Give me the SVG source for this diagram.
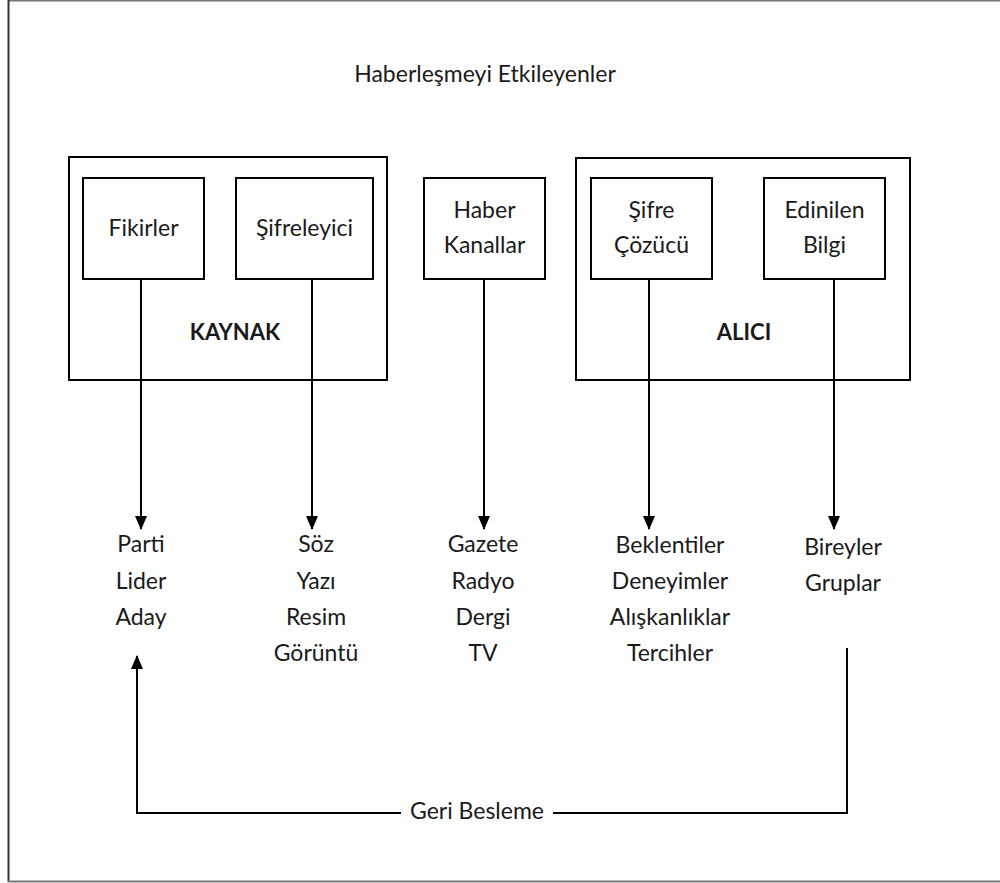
<svg xmlns="http://www.w3.org/2000/svg" width="1000" height="883" viewBox="0 0 1000 883">
<style>
.box{fill:none;stroke:#000;stroke-width:2}
.ln{fill:none;stroke:#000;stroke-width:2}
.t{font-family:Lato,"Open Sans",sans-serif;font-size:23px;fill:#1a1a1a;text-anchor:middle}
.b{font-weight:bold;font-size:22px}
</style>
<defs>
<marker id="ah" markerWidth="14" markerHeight="12" refX="13" refY="6" orient="auto" markerUnits="userSpaceOnUse" viewBox="0 0 14 12">
<path d="M0,0 L14,6 L0,12 Z" fill="#000"/>
</marker>
</defs>
<rect width="1000" height="883" fill="#fff"/>
<g id="frame">
<line x1="8" y1="0.5" x2="1000" y2="0.5" stroke="#777" stroke-width="2"/>
<line x1="8.5" y1="0" x2="8.5" y2="882" stroke="#333" stroke-width="2"/>
<line x1="8" y1="881.5" x2="1000" y2="881.5" stroke="#777" stroke-width="2"/>
</g>
<text id="title" class="t" x="485" y="82">Haberleşmeyi Etkileyenler</text>
<g id="kaynak">
<rect class="box" x="69" y="157" width="318" height="223"/>
<text class="t b" x="235" y="340">KAYNAK</text>
</g>
<g id="fikirler">
<rect class="box" x="83" y="178" width="121" height="101"/>
<text class="t" x="143.5" y="236">Fikirler</text>
</g>
<g id="sifreleyici">
<rect class="box" x="236" y="178" width="137" height="101"/>
<text class="t" x="304.5" y="236">Şifreleyici</text>
</g>
<g id="haber">
<rect class="box" x="424" y="178" width="121" height="101"/>
<text class="t" x="484.5" y="218">Haber</text>
<text class="t" x="484.5" y="253">Kanallar</text>
</g>
<g id="alici">
<rect class="box" x="576" y="158" width="334" height="222"/>
<text class="t b" x="744" y="340">ALICI</text>
</g>
<g id="sifrecozucu">
<rect class="box" x="591" y="178" width="121" height="101"/>
<text class="t" x="651.5" y="218">Şifre</text>
<text class="t" x="651.5" y="253">Çözücü</text>
</g>
<g id="edinilen">
<rect class="box" x="764" y="178" width="121" height="101"/>
<text class="t" x="824.5" y="218">Edinilen</text>
<text class="t" x="824.5" y="253">Bilgi</text>
</g>
<g id="list-kaynak">
<text class="t" x="141" y="552">Parti</text>
<text class="t" x="141" y="589">Lider</text>
<text class="t" x="141" y="625">Aday</text>
</g>
<g id="list-sifre">
<text class="t" x="316" y="552">Söz</text>
<text class="t" x="316" y="589">Yazı</text>
<text class="t" x="316" y="625">Resim</text>
<text class="t" x="316" y="661">Görüntü</text>
</g>
<g id="list-kanal">
<text class="t" x="483" y="552">Gazete</text>
<text class="t" x="483" y="589">Radyo</text>
<text class="t" x="483" y="625">Dergi</text>
<text class="t" x="483" y="661">TV</text>
</g>
<g id="list-cozucu">
<text class="t" x="670" y="553">Beklentiler</text>
<text class="t" x="670" y="589">Deneyimler</text>
<text class="t" x="670" y="625">Alışkanlıklar</text>
<text class="t" x="670" y="661">Tercihler</text>
</g>
<g id="list-bilgi">
<text class="t" x="843" y="555">Bireyler</text>
<text class="t" x="843" y="591">Gruplar</text>
</g>
<g id="connectors">
<line class="ln" x1="141" y1="279" x2="141" y2="529" marker-end="url(#ah)"/>
<line class="ln" x1="312" y1="279" x2="312" y2="529" marker-end="url(#ah)"/>
<line class="ln" x1="484" y1="279" x2="484" y2="529" marker-end="url(#ah)"/>
<line class="ln" x1="649" y1="279" x2="649" y2="529" marker-end="url(#ah)"/>
<line class="ln" x1="834" y1="279" x2="834" y2="529" marker-end="url(#ah)"/>
<polyline class="ln" points="847,648 847,813 553,813"/>
<polyline class="ln" points="401,813 137,813 137,656" marker-end="url(#ah)"/>
<text class="t" x="477" y="819">Geri Besleme</text>
</g>
</svg>
